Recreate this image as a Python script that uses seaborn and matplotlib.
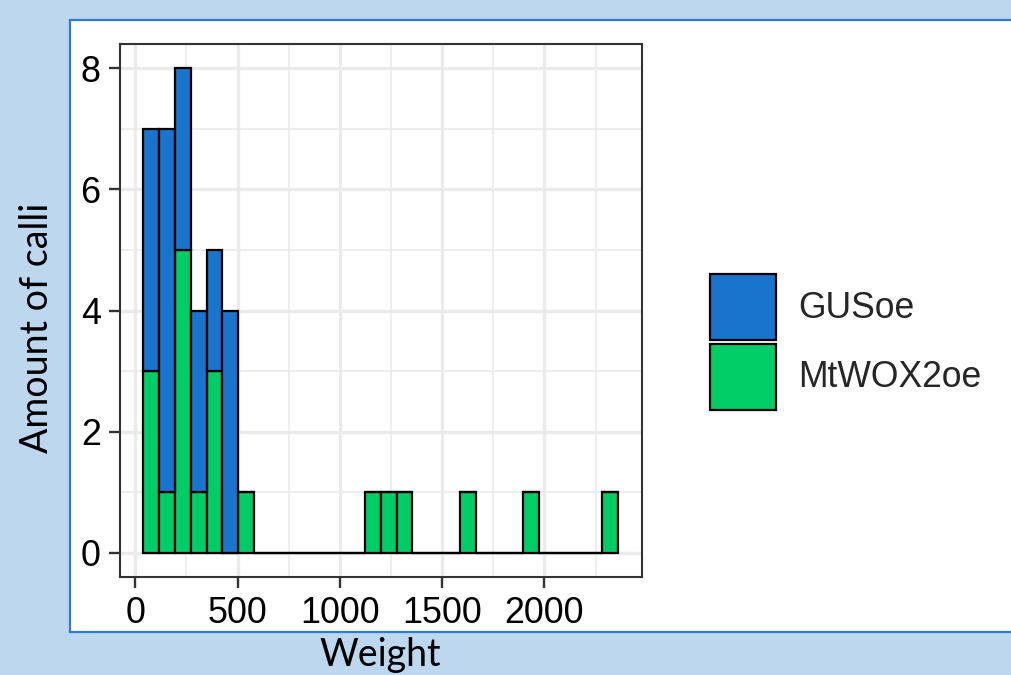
import numpy as np
import pandas as pd
import matplotlib
matplotlib.use("Agg")
import matplotlib.pyplot as plt
from matplotlib.patches import Rectangle
from matplotlib.ticker import MultipleLocator
import seaborn as sns

# ---- data ----
groups = ["GUSoe", "MtWOX2oe"]
bin_start = 39
bin_width = 77.4
n_bins = 30
gus_counts = [4, 6, 3, 3, 2, 4, 0, 0, 0, 0, 0, 0, 0, 0, 0,
              0, 0, 0, 0, 0, 0, 0, 0, 0, 0, 0, 0, 0, 0, 0]
wox_counts = [3, 1, 5, 1, 3, 0, 1, 0, 0, 0, 0, 0, 0, 0, 1,
              1, 1, 0, 0, 0, 1, 0, 0, 0, 1, 0, 0, 0, 0, 1]
x_ticks = [0, 500, 1000, 1500, 2000]
y_ticks = [0, 2, 4, 6, 8]
colors = {"GUSoe": "#1874CD", "MtWOX2oe": "#00CD66"}

edges = bin_start + bin_width * np.arange(n_bins + 1)
centers = (edges[:-1] + edges[1:]) / 2
df = pd.DataFrame({
    "Weight": np.concatenate([centers, centers]),
    "Count": gus_counts + wox_counts,
    "Line": [groups[0]] * n_bins + [groups[1]] * n_bins,
})

sns.set_theme(style="white")
plt.rcParams["font.family"] = ["Liberation Sans", "DejaVu Sans"]

W, H = 1011, 675
fig = plt.figure(figsize=(W / 100, H / 100), dpi=100)
fig.patch.set_facecolor("#BDD7EE")
fig.patches.append(Rectangle((70 / W, 1 - 632 / H), (W - 70) / W + 0.02, (632 - 20) / H,
                             transform=fig.transFigure, facecolor="white",
                             edgecolor="#2E7BD6", linewidth=1.6, zorder=-10))

ax = fig.add_axes([119.5 / W, 1 - 577 / H, (642 - 119.5) / W, (577 - 44) / H])
sns.histplot(data=df, x="Weight", weights="Count", hue="Line", hue_order=groups,
             multiple="stack", bins=[float(e) for e in edges], palette=colors, alpha=1,
             edgecolor="black", linewidth=1.6, ax=ax)

span = edges[-1] - edges[0]
ax.set_xlim(edges[0] - 0.05 * span, edges[-1] + 0.05 * span)
ax.set_ylim(-0.4, 8.4)
ax.set_xticks(x_ticks)
ax.set_yticks(y_ticks)
ax.xaxis.set_minor_locator(MultipleLocator(250))
ax.yaxis.set_minor_locator(MultipleLocator(1))
ax.grid(which="major", color="#EBEBEB", linewidth=2.4)
ax.grid(which="minor", color="#EBEBEB", linewidth=1.2)
ax.set_axisbelow(True)
for s in ax.spines.values():
    s.set_color("#333333")
    s.set_linewidth(1.5)
ax.tick_params(which="major", axis="both", length=8, width=1.7, color="#333333",
               labelsize=25.8, labelcolor="black", pad=5.5, left=True, bottom=True)
ax.tick_params(which="minor", length=0)

lab_font = dict(family=["Lato", "DejaVu Sans"], size=27, color="black")
ax.set_xlabel("Weight", **lab_font)
ax.set_ylabel("Amount of calli", **lab_font)
ax.xaxis.label.set_verticalalignment("center")
ax.yaxis.label.set_verticalalignment("center")
ax.xaxis.set_label_coords(380 / W, 1 - 655 / H, transform=fig.transFigure)
ax.yaxis.set_label_coords(37 / W, 1 - 328 / H, transform=fig.transFigure)

sns.move_legend(ax, "upper left", bbox_to_anchor=(710 / W, 1 - 274 / H),
                bbox_transform=fig.transFigure, title=None, frameon=False,
                fontsize=25.6, handlelength=1.85, handleheight=2.48,
                labelspacing=0.1, handletextpad=0.62, borderpad=0, borderaxespad=0)

fig.savefig("out.png", dpi=100, facecolor=fig.get_facecolor())
